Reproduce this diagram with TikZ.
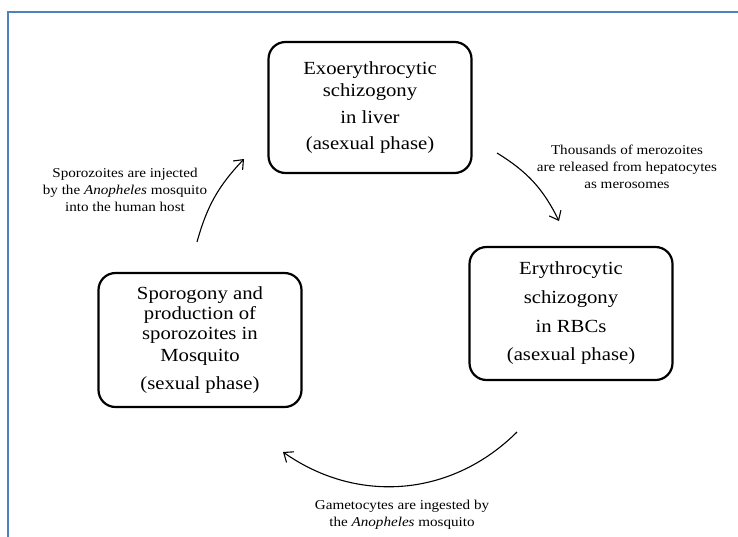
\documentclass[tikz,border=0pt]{standalone}
\usepackage{fontspec}
\setmainfont{Liberation Serif}[FakeStretch=1.12]
\usetikzlibrary{arrows.meta}
\definecolor{frameblue}{RGB}{79,129,189}
\begin{document}
\begin{tikzpicture}[x=1pt,y=-1pt,
  box/.style={draw, line width=2.2pt, rounded corners=17pt, minimum width=203pt,
    minimum height=132pt, align=center, font=\fontsize{18.5}{21}\selectfont, inner sep=0pt},
  lab/.style={align=center, font=\fontsize{13.5}{17}\selectfont, inner sep=0pt},
  cyc/.style={line width=1.1pt, -{Straight Barb[length=8pt,width=13pt,line width=1.1pt]}},
  frameline/.style={draw=frameblue, line width=2.5pt}]
\useasboundingbox (0,0) rectangle (738,536);
\draw[frameline] (8,537) -- (8,12) -- (739,12);

\node[box, minimum height=131pt] (liver) at (370,107.5)
  {Exoerythrocytic\\[1pt] schizogony\\[6pt] in liver\\[5pt] (asexual phase)};
\node[box, minimum height=133pt] (rbc) at (571,313.5)
  {Erythrocytic\\[8pt] schizogony\\[8pt] in RBCs\\[7pt] (asexual phase)};
\node[box, minimum height=134pt, font=\fontsize{18.5}{20}\selectfont] (mosq) at (200,340)
  {Sporogony and\\ production of\\ sporozoites in\\[2pt] Mosquito\\[8pt] (sexual phase)};

\node[lab] (l1) at (125,190)
  {Sporozoites are injected\\ by the \textit{Anopheles} mosquito\\ into the human host};
\node[lab] (l2) at (627,167)
  {Thousands of merozoites\\ are released from hepatocytes\\ as merosomes};
\node[lab] (l3) at (402,515)
  {Gametocytes are ingested by\\ the \textit{Anopheles} mosquito};

\coordinate (a1s) at (197,242);
\coordinate (a1e) at (244,159);
\coordinate (a2s) at (497,153);
\coordinate (a2e) at (559,221);
\coordinate (a3s) at (517,432);
\coordinate (a3e) at (283,452);

\draw[cyc] (a1s) to[bend left=14] (a1e);
\draw[cyc] (a2s) to[bend left=16] (a2e);
\draw[cyc] (a3s) to[bend left=40] (a3e);
\end{tikzpicture}
\end{document}
